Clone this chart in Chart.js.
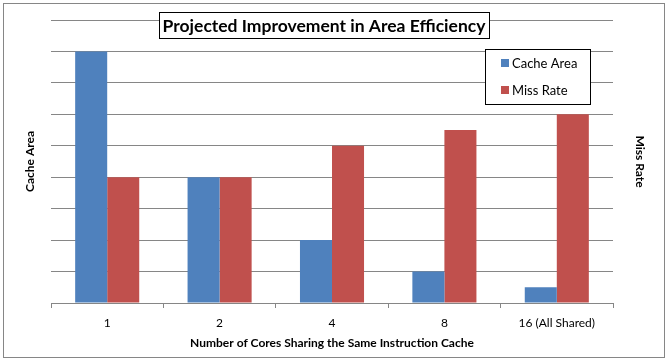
<!DOCTYPE html>
<html><head><meta charset="utf-8">
<script src="https://cdn.jsdelivr.net/npm/chart.js@4"></script>
<style>html,body{margin:0;padding:0;background:#fff;}#wrap{width:670px;height:362px;position:relative;}</style>
</head><body><div id="wrap"><canvas id="c" width="670" height="362"></canvas></div>
<script>
const categories = ["1", "2", "4", "8", "16 (All Shared)"];
const cacheArea = [8, 4, 2, 1, 0.5];
const missRate = [4, 4, 5, 5.5, 6];
const seriesNames = ["Cache Area", "Miss Rate"];
const chartTitle = "Projected Improvement in Area Efficiency";
const xTitle = "Number of Cores Sharing the Same Instruction Cache";
const yLeftTitle = "Cache Area";
const yRightTitle = "Miss Rate";

const FONT = "Lato, 'Liberation Sans', sans-serif";
const GRID = "#868686";

const decor = {
  id: 'decor',
  afterDraw(chart) {
    const ctx = chart.ctx;
    ctx.save();
    // outer border
    ctx.strokeStyle = GRID; ctx.lineWidth = 1;
    ctx.strokeRect(3.5, 3.5, 661, 354);
    // title box
    ctx.font = "bold 17.5px " + FONT;
    const cx = 324, cy = 25;
    ctx.fillStyle = "#fff";
    ctx.fillRect(159.5, 12.5, 330, 26);
    ctx.strokeStyle = "#000";
    ctx.strokeRect(159.5, 12.5, 330, 26);
    ctx.fillStyle = "#000"; ctx.textAlign = "center"; ctx.textBaseline = "middle";
    ctx.fillText(chartTitle, cx, cy + 1);
    // legend box
    ctx.fillStyle = "#fff";
    ctx.fillRect(485.5, 49.5, 105, 55);
    ctx.strokeStyle = "#000";
    ctx.strokeRect(485.5, 49.5, 105, 55);
    ctx.font = "13px " + FONT; ctx.textAlign = "left";
    const ys = [63, 90];
    chart.data.datasets.forEach((ds, i) => {
      ctx.fillStyle = ds.backgroundColor;
      ctx.fillRect(501, ys[i] - 4, 8, 8);
      ctx.fillStyle = "#000";
      ctx.fillText(ds.label, 512, ys[i] + 1);
    });
    ctx.restore();
  }
};

new Chart(document.getElementById('c'), {
  type: 'bar',
  data: {
    labels: categories,
    datasets: [
      { label: seriesNames[0], data: cacheArea, backgroundColor: "#4F81BD", yAxisID: 'y' },
      { label: seriesNames[1], data: missRate, backgroundColor: "#C0504D", yAxisID: 'y1' }
    ]
  },
  options: {
    responsive: false, animation: false,
    layout: { padding: { left: 23, right: 23, top: 20, bottom: 12 } },
    datasets: { bar: { categoryPercentage: 0.57, barPercentage: 1.0, borderWidth: 0 } },
    plugins: { legend: { display: false }, title: { display: false }, tooltip: { enabled: false } },
    scales: {
      x: {
        grid: { drawOnChartArea: false, drawTicks: true, tickLength: 5, color: GRID, offset: true },
        border: { color: GRID },
        ticks: { color: "#000", font: { family: FONT, size: 12 }, padding: 8 },
        title: { display: true, text: xTitle, color: "#000", font: { family: FONT, size: 12, weight: 'bold' }, padding: { top: 0, bottom: 0 } },
        afterFit(s) { s.height = 47; }
      },
      y: {
        position: 'left', min: 0, max: 9,
        ticks: { display: false, stepSize: 1 },
        grid: { color: GRID, drawTicks: false },
        border: { display: false },
        title: { display: true, text: yLeftTitle, color: "#000", font: { family: FONT, size: 12, weight: 'bold' }, padding: { top: 0, bottom: 0 } },
        afterFit(s) { s.width = 28; }
      },
      y1: {
        position: 'right', min: 0, max: 9,
        ticks: { display: false, stepSize: 1 },
        grid: { drawOnChartArea: false, drawTicks: false },
        border: { display: false },
        title: { display: true, text: yRightTitle, color: "#000", font: { family: FONT, size: 12, weight: 'bold' }, padding: { top: 0, bottom: 0 } },
        afterFit(s) { s.width = 34; }
      }
    }
  },
  plugins: [decor]
});
</script></body></html>
